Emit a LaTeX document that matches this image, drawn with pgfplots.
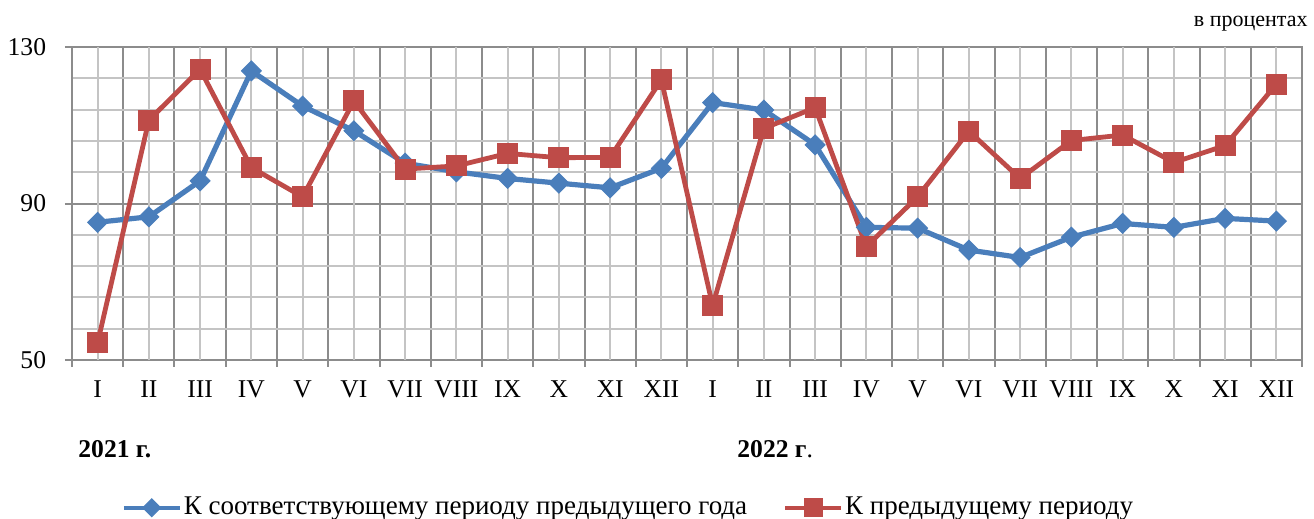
\documentclass[border=0pt]{standalone}
\usepackage{fontspec}
\setmainfont{Liberation Serif}
\usepackage{pgfplots}
\pgfplotsset{compat=1.18}
\definecolor{serA}{HTML}{4A7EBB}
\definecolor{serB}{HTML}{BE4B48}
\definecolor{gridD}{HTML}{8C8C8C}
\definecolor{gridL}{HTML}{C4C4C4}

\begin{document}
\fontsize{12.8}{15}\selectfont
\begin{tikzpicture}
\useasboundingbox (-36pt,-79.5pt) rectangle (621pt,180pt);
\begin{axis}[
    at={(0pt,0pt)}, anchor=south west,
    scale only axis, width=615pt, height=156.5pt,
    xmin=0.5, xmax=24.5, ymin=50, ymax=130,
    xtick={0.5,1.5,...,24.5}, xticklabels={},
    extra x ticks={1,...,24},
    extra x tick labels={I,II,III,IV,V,VI,VII,VIII,IX,X,XI,XII,I,II,III,IV,V,VI,VII,VIII,IX,X,XI,XII},
    extra x tick style={major tick length=0pt, major grid style={gridL, line width=1pt},
        xticklabel style={yshift=-6pt}},
    ytick={50,90,130},
    minor ytick={58,66,74,82,98,106,114,122},
    xmajorgrids, ymajorgrids, yminorgrids,
    major grid style={gridD, line width=1pt},
    minor grid style={gridL, line width=1pt},
    tick align=outside, xtick pos=bottom, ytick pos=left,
    major tick length=3.5pt, minor tick length=0pt,
    tick style={gridD, line width=1pt},
    axis line style={gridD, line width=1.2pt},
    /pgf/number format/assume math mode=true,
    yticklabel style={xshift=-5pt},
    tick label style={font=\fontsize{12.8}{15}\selectfont},
    legend style={at={(0.4524,-0.472)}, anchor=center, draw=none, fill=none,
        legend columns=2, inner sep=0pt,
        nodes={inner xsep=1pt, inner ysep=0pt},
        font=\fontsize{13.5}{16}\selectfont,
        /tikz/every even column/.append style={column sep=17pt}},
    legend cell align=left,
    legend image code/.code={\draw[line width=2pt, mark repeat=2, mark phase=2,
        /tikz/every mark/.append style={scale=0.9}]
        plot coordinates {(0pt,0pt) (14pt,0pt) (28pt,0pt)};},
]
% --- to the same period of the previous year ---
\addplot[serA, line width=2.6pt, mark=square*, mark size=3.5pt,
    mark options={rotate=45, line width=0.5pt}] coordinates {
    (1,85.2) (2,86.6) (3,95.8) (4,123.9) (5,114.9) (6,108.6)
    (7,100.3) (8,98.1) (9,96.4) (10,95.2) (11,94.0) (12,99.0)
    (13,115.8) (14,113.9) (15,105.0) (16,83.9) (17,83.7) (18,78.1)
    (19,76.2) (20,81.4) (21,84.9) (22,83.9) (23,86.2) (24,85.5)
};
% --- to the previous period ---
\addplot[serB, line width=2.4pt, mark=square*, mark size=5pt,
    mark options={line width=0.5pt}] coordinates {
    (1,54.4) (2,111.3) (3,124.3) (4,99.2) (5,91.7) (6,116.2)
    (7,98.8) (8,99.6) (9,102.8) (10,101.7) (11,101.8) (12,121.6)
    (13,63.9) (14,109.2) (15,114.5) (16,79.0) (17,91.7) (18,108.5)
    (19,96.4) (20,106.1) (21,107.5) (22,100.5) (23,104.8) (24,120.5)
};
\legend{К соответствующему периоду предыдущего года, К предыдущему периоду}
\end{axis}
\node[anchor=base east, inner sep=0pt, font=\fontsize{11}{13}\selectfont] at (618pt,166.5pt) {в процентах};
\node[anchor=base west, inner sep=0pt, font=\bfseries] at (3pt,-49pt) {2021 г.};
\node[anchor=base west, inner sep=0pt] at (332.5pt,-49pt) {\textbf{2022 г}.};
\end{tikzpicture}
\end{document}
